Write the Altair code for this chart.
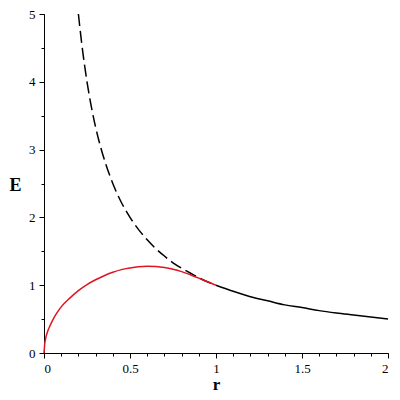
import altair as alt
import pandas as pd

# red curve (field inside)
r_in = [0, 0.005, 0.01, 0.02, 0.04, 0.06, 0.08, 0.1, 0.15, 0.2, 0.25, 0.3, 0.35,
        0.4, 0.45, 0.5, 0.55, 0.6, 0.65, 0.7, 0.75, 0.8, 0.85, 0.9, 0.95, 1.0]
E_in = [0, 0.15, 0.22, 0.31, 0.43, 0.53, 0.61, 0.68, 0.81, 0.92, 1.01, 1.08, 1.14,
        1.19, 1.23, 1.255, 1.273, 1.28, 1.275, 1.26, 1.235, 1.20, 1.155, 1.105, 1.05, 1.0]

# dashed black curve (inside, point-charge comparison)
r_dash = [0.2, 0.22, 0.25, 0.28, 0.3, 0.33, 0.36, 0.4, 0.45, 0.5, 0.55, 0.6,
          0.65, 0.7, 0.75, 0.8, 0.85, 0.9, 0.95, 1.0]
E_dash = [5.0, 4.55, 4.0, 3.57, 3.33, 3.03, 2.78, 2.5, 2.22, 2.0, 1.82, 1.67,
          1.54, 1.43, 1.33, 1.25, 1.18, 1.11, 1.05, 1.0]

# solid black curve (outside)
r_out = [1.0, 1.1, 1.2, 1.3, 1.4, 1.5, 1.6, 1.7, 1.8, 1.9, 2.0]
E_out = [1.0, 0.91, 0.83, 0.77, 0.71, 0.67, 0.625, 0.59, 0.56, 0.53, 0.5]

x_major = [0, 0.5, 1, 1.5, 2]
x_minor = [i / 10 for i in range(21)]
y_major = [0, 1, 2, 3, 4, 5]
y_minor = [i / 2 for i in range(11)]

font = "Liberation Serif, Times New Roman, serif"
xs = alt.Scale(domain=[0, 2], nice=False, zero=False)
ys = alt.Scale(domain=[0, 5], nice=False, zero=False)

major_x = alt.Axis(values=x_major, title="r", grid=False, domainColor="black",
                   tickColor="black", tickSize=5, labelFont=font, labelFontSize=13,
                   labelColor="black", labelPadding=4, titleFont=font, titleFontSize=17,
                   titleFontWeight="bold", titleColor="black", titleX=172, titleY=31,
                   titleBaseline="middle", titleAlign="center", orient="bottom",
                   labelExpr="'' + datum.value")
major_y = alt.Axis(values=y_major, title="E", grid=False, domainColor="black",
                   tickColor="black", tickSize=5, labelFont=font, labelFontSize=13,
                   labelColor="black", labelPadding=4, titleFont=font, titleFontSize=18,
                   titleFontWeight="bold", titleColor="black", titleAngle=0,
                   titleX=-29, titleY=171, titleBaseline="middle", titleAlign="center",
                   orient="left", labelExpr="'' + datum.value")
minor_x = alt.Axis(values=x_minor, title=None, labels=False, grid=False, domain=False,
                   tickColor="black", tickSize=3, orient="bottom")
minor_y = alt.Axis(values=y_minor, title=None, labels=False, grid=False, domain=False,
                   tickColor="black", tickSize=3, orient="left")

df_in = pd.DataFrame({"r": r_in, "E": E_in})
df_dash = pd.DataFrame({"r": r_dash, "E": E_dash})
df_out = pd.DataFrame({"r": r_out, "E": E_out})

outside = alt.Chart(df_out).mark_line(color="black", strokeWidth=1.5,
                                      interpolate="monotone").encode(
    x=alt.X("r:Q", scale=xs, axis=major_x),
    y=alt.Y("E:Q", scale=ys, axis=major_y),
)
dashed = alt.Chart(df_dash).mark_line(color="black", strokeWidth=1.5,
                                      strokeDash=[12, 5],
                                      interpolate="monotone").encode(
    x=alt.X("r:Q", scale=xs, axis=minor_x),
    y=alt.Y("E:Q", scale=ys, axis=minor_y),
)
inside = alt.Chart(df_in).mark_line(color="#e0141e", strokeWidth=1.5,
                                    interpolate="monotone").encode(
    x=alt.X("r:Q", scale=xs, axis=None),
    y=alt.Y("E:Q", scale=ys, axis=None),
)

chart = alt.layer(outside, dashed, inside).resolve_axis(
    x="independent", y="independent"
).properties(
    width=344, height=339,
    autosize=alt.AutoSizeParams(type="none"),
    padding={"left": 36, "top": 6, "right": 4, "bottom": 39},
    background="white",
).configure_view(stroke=None).configure_axis(
    labelFont=font, titleFont=font
)

chart.save("out.html", embed_options={"renderer": "svg", "actions": False})
